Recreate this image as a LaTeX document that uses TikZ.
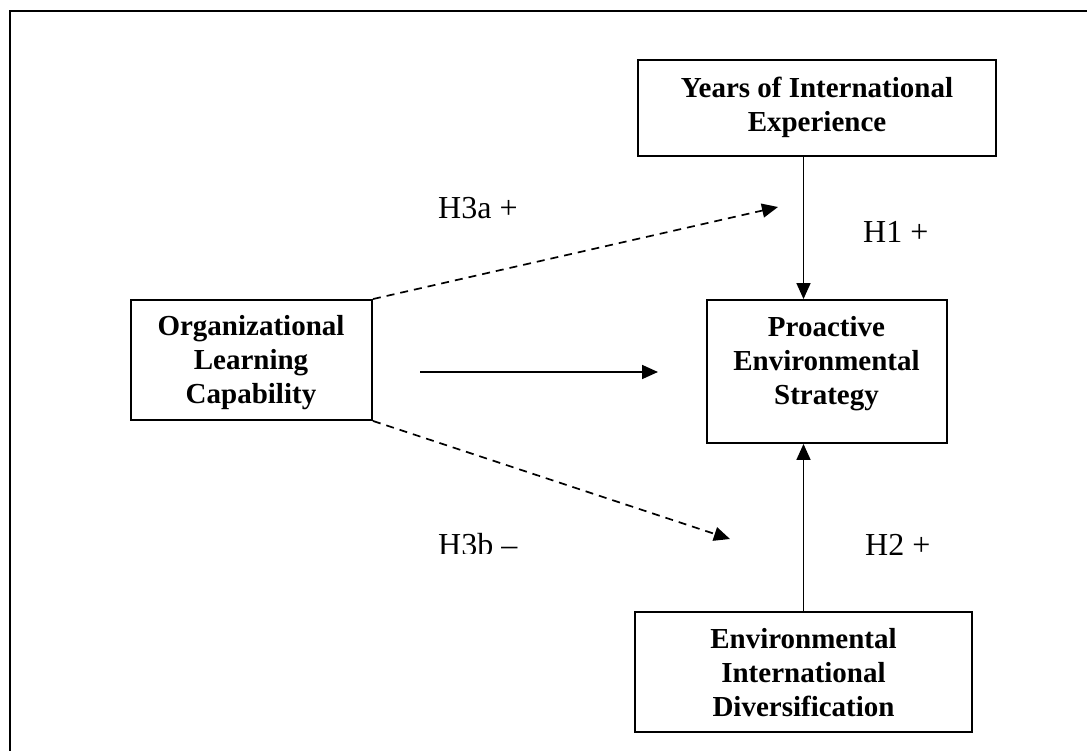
\documentclass[tikz,border=0pt]{standalone}
\usepackage{fontspec}
\setmainfont{Liberation Serif}
\usetikzlibrary{arrows.meta}
\begin{document}
\begin{tikzpicture}[x=1pt,y=-1pt,
  box/.style={draw, line width=1.9pt, inner sep=0pt},
  boxtext/.style={font=\bfseries\fontsize{29}{34}\selectfont, align=center, inner sep=0pt},
  hyp/.style={font=\fontsize{32}{36}\selectfont, inner sep=0pt, anchor=base west},
  arr/.style={line width=1.7pt, -{Triangle[length=16pt,width=14pt]}},
  darr/.style={arr, dash pattern=on 8pt off 6pt}]
\useasboundingbox (0,0) rectangle (1087,751);
\begin{scope}
  \clip (0,0) rectangle (1087,751);
  % outer frame, running off the right and bottom edges
  \draw[line width=2.8pt] (1100,11) -- (10,11) -- (10,770);
\end{scope}

% boxes
\node[box, minimum width=358pt, minimum height=96pt] (yie) at (817,108) {};
\node[box, minimum width=241pt, minimum height=120pt] (olc) at (251.5,360) {};
\node[box, minimum width=240pt, minimum height=143pt] (pes) at (827,371.5) {};
\node[box, minimum width=337pt, minimum height=120pt] (eid) at (803.5,672) {};

% box captions
\node[boxtext] (yie-t) at (817,107) {Years of International\\Experience};
\node[boxtext] (olc-t) at (251,363) {Organizational\\Learning\\Capability};
\node[boxtext] (pes-t) at (826.5,364) {Proactive\\Environmental\\Strategy};
\node[boxtext] (eid-t) at (803.5,673) {Environmental\\International\\Diversification};

% free arrow ends
\coordinate (hs) at (420,372);
\coordinate (he) at (658,372);
\coordinate (h3a) at (778,207);
\coordinate (h3b) at (730,539);

% connectors (the vertical ones share the axis of the bottom box)
\draw[arr] (yie.south -| eid.north) -- (pes.north -| eid.north);
\draw[arr] (eid.north) -- (pes.south -| eid.north);
\draw[arr] (hs) -- (he);
\draw[darr] (olc.north east) -- (h3a);
\draw[darr] (olc.south east) -- (h3b);

% hypothesis labels
\node[hyp] (l3a) at (438,219) {H3a +};
\node[hyp] (l1) at (863,243) {H1 +};
\node[hyp] (l2) at (865,555) {H2 +};
\begin{scope}
  \clip (400,500) rectangle (600,553.5);
  \node[hyp] (l3b) at (438,555) {H3b –};
\end{scope}
\end{tikzpicture}
\end{document}
